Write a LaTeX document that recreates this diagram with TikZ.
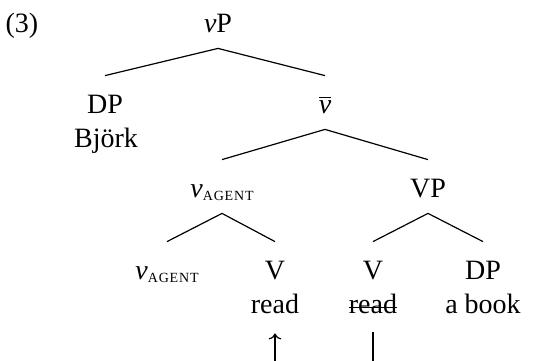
\documentclass[tikz,border=0pt]{standalone}
\usepackage{fontspec}
\setmainfont{Liberation Serif}
\newfontfamily\subfont[LetterSpace=6]{Liberation Serif}
\usetikzlibrary{arrows.meta}
% small-caps-like subscript label
\newcommand{\vsub}[1]{\textit{v}\raisebox{-1.5pt}{\fontsize{7}{8}\subfont #1}}
\tikzset{
  lbl/.style={anchor=base, inner sep=0pt, text height=18.5pt, text depth=8pt,
              font=\fontsize{14}{17}\selectfont},
  txt/.style={anchor=base, inner sep=0pt, font=\fontsize{14}{17}\selectfont},
  branch/.style={line width=0.6pt},
  move/.style={line width=0.6pt}
}
\begin{document}
\begin{tikzpicture}[x=0.5pt, y=-0.5pt]
  \useasboundingbox (0,0) rectangle (542,360);
  \clip (0,0) rectangle (542,360);

  \node[txt] (ex) at (22,32) {(3)};

  % tree labels
  \node[lbl] (vP)    at (218,32)  {\textit{v}P};
  \node[lbl] (DP1)   at (105,113) {DP};
  \node[txt] (bjork) at (106,147) {Björk};
  \node[lbl] (vbar)  at (325,113) {$\overline{\hbox{\itshape v}}$};
  \node[lbl] (vag)   at (222,197) {\vsub{AGENT}};
  \node[lbl] (VP)    at (428,197) {VP};
  \node[lbl] (vagl)  at (167,279) {\vsub{AGENT}};
  \node[lbl] (V1)    at (275,279) {V};
  \node[lbl] (V2)    at (373,279) {V};
  \node[lbl] (DP2)   at (483,279) {DP};

  % terminals
  \node[lbl] (read)  at (275,313) {read};
  \node[lbl] (sread) at (373,313) {read};
  \node[lbl] (book)  at (483,313) {a book};

  % branches
  \draw[branch] (vP.south) -- (DP1.north);
  \draw[branch] (vP.south) -- (vbar.north);
  \draw[branch] (vbar.south) -- (vag.north);
  \draw[branch] (vbar.south) -- (VP.north);
  \draw[branch] (vag.south) -- (vagl.north);
  \draw[branch] (vag.south) -- (V1.north);
  \draw[branch] (VP.south) -- (V2.north);
  \draw[branch] (VP.south) -- (DP2.north);

  % struck-out copy
  \draw[line width=0.6pt] ([yshift=2.6pt]sread.base west) -- ([yshift=2.6pt]sread.base east);

  % head movement
  \draw[move, -{To[length=3pt]}] ([yshift=-1.5pt]sread.south) -- ++(0,60) -| ([yshift=-2pt]read.south);
\end{tikzpicture}
\end{document}
